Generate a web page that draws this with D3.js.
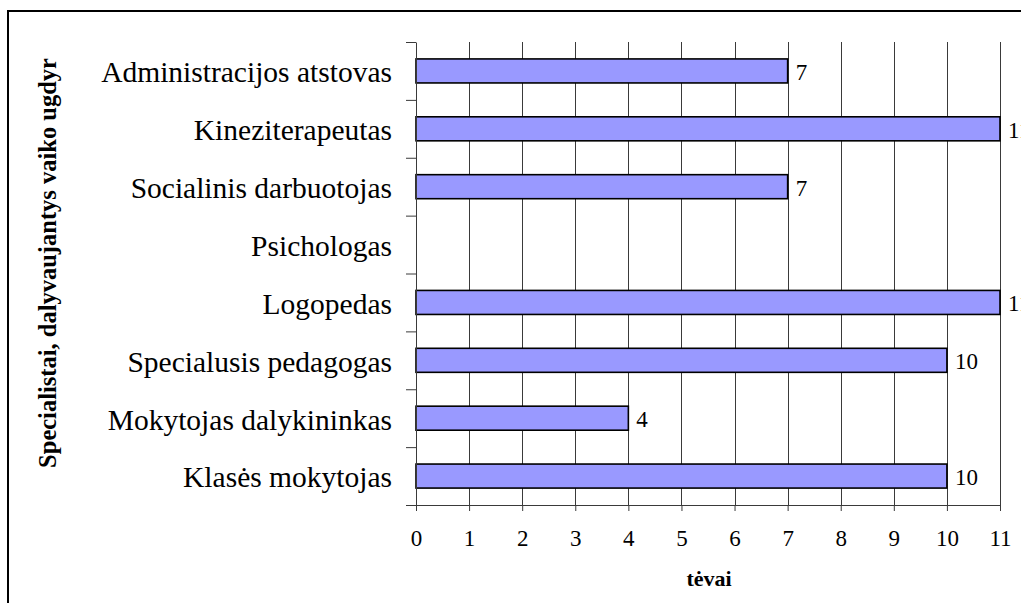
<!DOCTYPE html>
<html>
<head>
<meta charset="utf-8">
<script src="https://cdn.jsdelivr.net/npm/d3@7"></script>
<style>
  html, body { margin: 0; padding: 0; background: #fff; }
  svg { display: block; }
  text { font-family: "Liberation Serif", "Times New Roman", serif; fill: #000; }
</style>
</head>
<body>
<svg id="chart" width="1021" height="603"></svg>
<script>
// Specialists taking part in the child's education, as reported by parents
const categories = [
  "Administracijos atstovas",
  "Kineziterapeutas",
  "Socialinis darbuotojas",
  "Psichologas",
  "Logopedas",
  "Specialusis pedagogas",
  "Mokytojas dalykininkas",
  "Klasės mokytojas"
];
const values = [7, 11, 7, null, 11, 10, 4, 10];
const xTicks = [0, 1, 2, 3, 4, 5, 6, 7, 8, 9, 10, 11];
const xTitle = "tėvai";
const yTitle = "Specialistai, dalyvaujantys vaiko ugdyr";

const svg = d3.select("#chart");

// outer chart frame
svg.append("rect")
  .attr("x", 8).attr("y", 11)
  .attr("width", 1100).attr("height", 700)
  .attr("fill", "none").attr("stroke", "#000").attr("stroke-width", 2);

const plot = { left: 416, right: 1000, top: 42, bottom: 505 };

const x = d3.scaleLinear().domain([0, 11]).range([plot.left, plot.right]);
const y = d3.scaleBand().domain(categories)
  .range([plot.top, plot.bottom])
  .paddingInner(0.585).paddingOuter(0.2925);
// category boundaries for the left-axis tick marks
const yEdge = d3.scaleLinear().domain([0, categories.length]).range([plot.top, plot.bottom]);

// vertical gridlines
svg.append("g")
  .selectAll("line")
  .data(xTicks.filter(d => d > 0))
  .join("line")
  .attr("x1", d => Math.round(x(d)) + 0.5).attr("x2", d => Math.round(x(d)) + 0.5)
  .attr("y1", plot.top).attr("y2", plot.bottom)
  .attr("stroke", "#3a3a3a").attr("stroke-width", 1);

// bars
const rows = categories.map((c, i) => ({ cat: c, v: values[i] }));
svg.append("g")
  .selectAll("rect")
  .data(rows.filter(d => d.v !== null))
  .join("rect")
  .attr("x", x(0))
  .attr("y", d => y(d.cat))
  .attr("width", d => x(d.v) - x(0))
  .attr("height", y.bandwidth())
  .attr("fill", "#9999FF")
  .attr("stroke", "#000")
  .attr("stroke-width", 1.6);

// value labels (the right-hand ones run past the frame edge)
svg.append("g")
  .selectAll("text")
  .data(rows.filter(d => d.v !== null))
  .join("text")
  .attr("x", d => x(d.v) + 8)
  .attr("y", d => y(d.cat) + y.bandwidth() / 2 + 1)
  .attr("dy", "0.35em")
  .style("font-size", "23px")
  .text(d => d.v);

// x axis
const xAxis = svg.append("g")
  .attr("transform", `translate(0,${plot.bottom})`)
  .call(d3.axisBottom(x).tickValues(xTicks).tickSize(6).tickSizeOuter(0).tickPadding(19));
xAxis.select(".domain").attr("stroke", "#3a3a3a");
xAxis.selectAll(".tick line").attr("stroke", "#3a3a3a");
xAxis.selectAll(".tick text")
  .style("font-size", "23px")
  .style("font-family", "'Liberation Serif', 'Times New Roman', serif")
  .attr("fill", "#000");

// y axis with marks on category boundaries
const yAxis = svg.append("g")
  .attr("transform", `translate(${plot.left},0)`)
  .call(d3.axisLeft(yEdge).tickValues(d3.range(categories.length + 1))
    .tickSize(10).tickSizeOuter(0).tickFormat(""));
yAxis.select(".domain").attr("stroke", "#3a3a3a");
yAxis.selectAll(".tick line").attr("stroke", "#3a3a3a");

// category labels
svg.append("g")
  .selectAll("text")
  .data(categories)
  .join("text")
  .attr("x", 392)
  .attr("y", d => y(d) + y.bandwidth() / 2 + 1)
  .attr("dy", "0.35em")
  .attr("text-anchor", "end")
  .style("font-size", "29.5px")
  .text(d => d);

// axis titles
svg.append("text")
  .attr("x", 709).attr("y", 586)
  .attr("text-anchor", "middle")
  .style("font-size", "22px").style("font-weight", "bold")
  .text(xTitle);

svg.append("text")
  .attr("transform", "translate(56,263) rotate(-90)")
  .attr("text-anchor", "middle")
  .style("font-size", "24.5px").style("font-weight", "bold")
  .text(yTitle);
</script>
</body>
</html>
